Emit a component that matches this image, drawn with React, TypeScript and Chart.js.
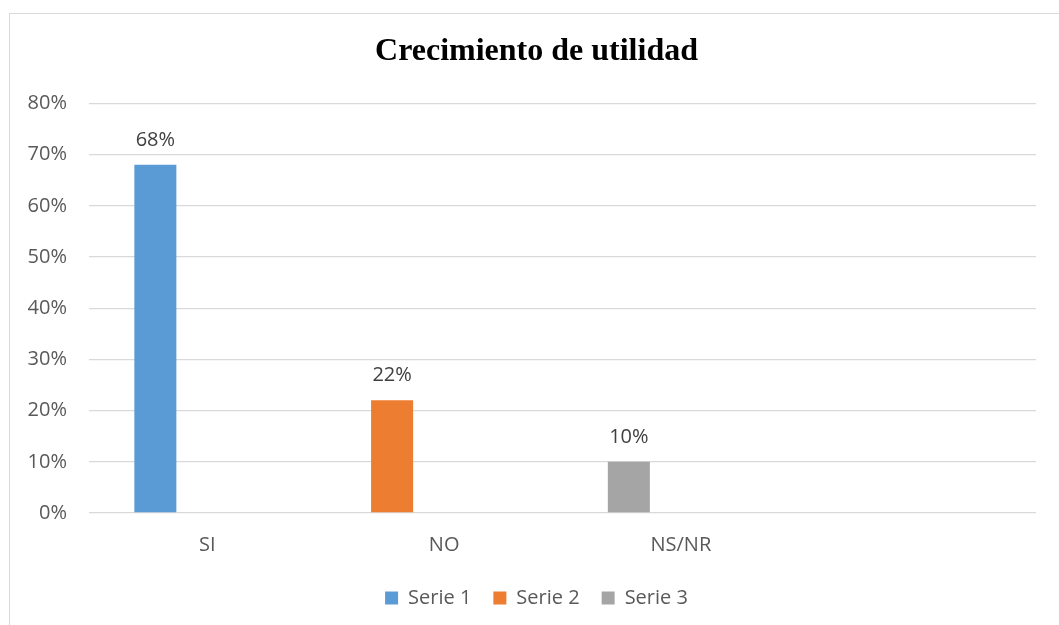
import React, { useEffect, useRef } from "react";
import { Chart, registerables } from "chart.js";

Chart.register(...registerables);

const categories = ["SI", "NO", "NS/NR", ""];
const seriesNames = ["Serie 1", "Serie 2", "Serie 3"];
const serie1 = [0.68, null, null, null];
const serie2 = [null, 0.22, null, null];
const serie3 = [null, null, 0.1, null];
const seriesColors = ["#5B9BD5", "#ED7D31", "#A5A5A5"];
const yMin = 0;
const yMax = 0.8;
const yStep = 0.1;
const titleText = "Crecimiento de utilidad";

const pct = (v: number) => Math.round(v * 100) + "%";

const dataLabels = {
  id: "dataLabels",
  afterDatasetsDraw(chart: any) {
    const ctx = chart.ctx;
    ctx.save();
    ctx.font = "20px 'Open Sans'";
    ctx.fillStyle = "#404040";
    ctx.textAlign = "center";
    ctx.textBaseline = "middle";
    chart.data.datasets.forEach((ds: any, i: number) => {
      if (i >= seriesNames.length) return;
      const meta = chart.getDatasetMeta(i);
      meta.data.forEach((el: any, j: number) => {
        const v = ds.data[j];
        if (v === null || v === undefined) return;
        ctx.fillText(pct(v), el.x, el.y - 25);
      });
    });
    ctx.restore();
  },
};

export default function App() {
  const ref = useRef<HTMLCanvasElement>(null);

  useEffect(() => {
    if (!ref.current) return;
    const allSeries = [serie1, serie2, serie3];
    const chart = new Chart(ref.current, {
      type: "bar",
      data: {
        labels: categories,
        datasets: [
          ...allSeries.map((d, i) => ({
            label: seriesNames[i],
            data: d,
            backgroundColor: seriesColors[i],
            stack: "a",
            yAxisID: "y",
            categoryPercentage: 0.879,
            barPercentage: 0.404,
          })),
          {
            label: "",
            data: [null, null, null, null],
            backgroundColor: "rgba(0,0,0,0)",
            stack: "b",
            yAxisID: "y",
            categoryPercentage: 0.879,
            barPercentage: 0.404,
          },
        ],
      },
      options: {
        responsive: false,
        animation: false,
        layout: { padding: { left: 14, right: 0, top: 0, bottom: 7 } },
        scales: {
          x: {
            stacked: true,
            grid: { display: false, drawTicks: false },
            border: { display: false },
            ticks: {
              padding: 20,
              color: "#595959",
              font: { family: "'Open Sans'", size: 20 },
            },
            afterFit: (s: any) => {
              s.height -= 11;
            },
          },
          y: {
            min: yMin,
            max: yMax,
            grid: { color: "#d9d9d9", lineWidth: 1.3, drawTicks: false },
            border: { display: false },
            ticks: {
              stepSize: yStep,
              padding: 22,
              color: "#595959",
              font: { family: "'Open Sans'", size: 20 },
              callback: (v: any) => pct(Number(v)),
            },
            afterFit: (s: any) => {
              s.width = 75;
            },
          },
          yRight: {
            position: "right",
            display: true,
            min: yMin,
            max: yMax,
            grid: { display: false, drawTicks: false },
            border: { display: false },
            ticks: { display: false },
            afterFit: (s: any) => {
              s.width = 23;
            },
          },
        },
        plugins: {
          title: {
            display: true,
            text: titleText,
            color: "#000000",
            font: { family: "'Liberation Serif'", size: 32, weight: "bold" },
            padding: { top: 33, bottom: 32 },
          },
          legend: {
            position: "bottom",
            labels: {
              boxWidth: 13,
              boxHeight: 13,
              padding: 22,
              color: "#595959",
              font: { family: "'Open Sans'", size: 20 },
              filter: (item: any) => item.datasetIndex < seriesNames.length,
            },
          },
          tooltip: { enabled: false },
        },
      },
      plugins: [dataLabels],
    });
    return () => chart.destroy();
  }, []);

  return (
    <div
      style={{
        position: "absolute",
        left: 0,
        top: 0,
        width: 1059,
        height: 625,
        overflow: "hidden",
        background: "#ffffff",
      }}
    >
      <div
        style={{
          position: "absolute",
          left: 9,
          top: 13,
          width: 1200,
          height: 800,
          border: "1px solid #d9d9d9",
        }}
      />
      <canvas
        ref={ref}
        width={1059}
        height={625}
        style={{ position: "absolute", left: 0, top: 0 }}
      />
    </div>
  );
}
